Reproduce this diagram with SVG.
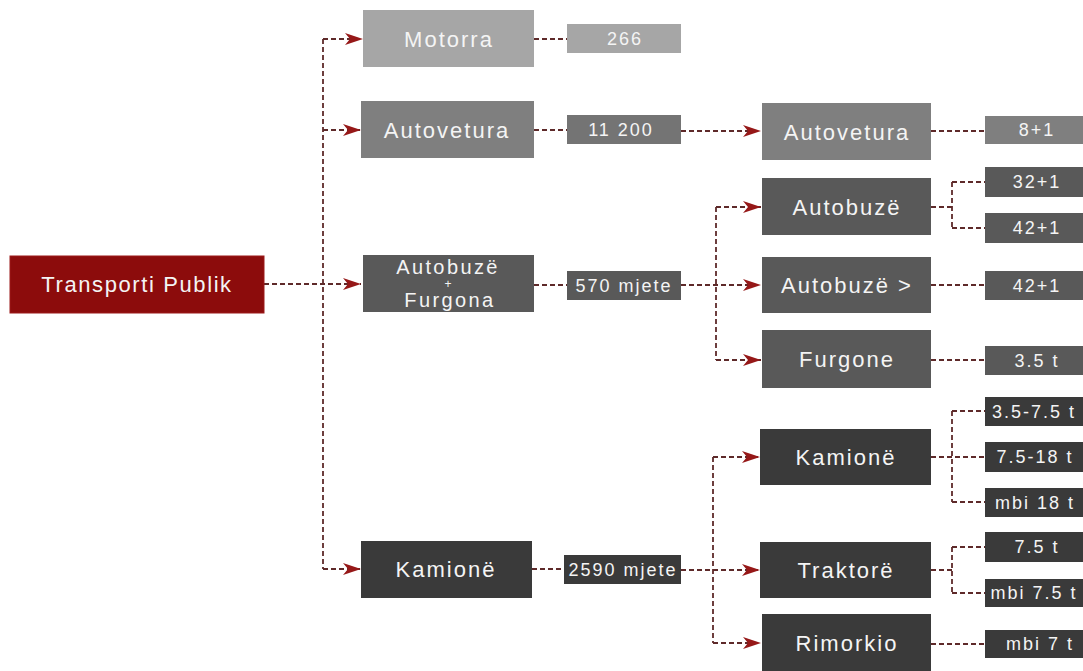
<svg xmlns="http://www.w3.org/2000/svg" width="1083" height="671" viewBox="0 0 1083 671">
<defs>
<style>
.lbl{font-family:"Liberation Sans",Arial,sans-serif;font-size:22px;letter-spacing:2px;fill:#f4f4f4;text-anchor:middle}
.sm{font-family:"Liberation Sans",Arial,sans-serif;font-size:18px;letter-spacing:2px;fill:#f4f4f4;text-anchor:middle}
.c1{fill:#a6a6a6}
.c2{fill:#7f7f7f}
.c3{fill:#595959}
.c4{fill:#3a3a3a}
.red{fill:#8c0c0c;stroke:#9c1a1a;stroke-width:1}
.ln{fill:none;stroke:#5e2a2a;stroke-width:1.8;stroke-dasharray:5 3}
</style>
<marker id="ah" viewBox="0 0 18 14" refX="18" refY="7" markerWidth="18" markerHeight="14" markerUnits="userSpaceOnUse" orient="auto">
<path d="M0,1 L18,7 L0,13 L5,7 z" fill="#961818"/>
</marker>
</defs>
<rect width="1083" height="671" fill="#ffffff"/>

<g id="connectors">
<path class="ln" d="M264,284 H361" marker-end="url(#ah)"/>
<path class="ln" d="M323,39 V569"/>
<path class="ln" d="M323,39 H363" marker-end="url(#ah)"/>
<path class="ln" d="M323,130 H361" marker-end="url(#ah)"/>
<path class="ln" d="M323,569 H361" marker-end="url(#ah)"/>
<path class="ln" d="M534,39 H567"/>
<path class="ln" d="M534,130 H567"/>
<path class="ln" d="M534,285 H567"/>
<path class="ln" d="M532,569 H564"/>
<path class="ln" d="M681,131 H761" marker-end="url(#ah)"/>
<path class="ln" d="M681,285 H761" marker-end="url(#ah)"/>
<path class="ln" d="M716,207 V360"/>
<path class="ln" d="M716,207 H761" marker-end="url(#ah)"/>
<path class="ln" d="M716,360 H761" marker-end="url(#ah)"/>
<path class="ln" d="M681,570 H760" marker-end="url(#ah)"/>
<path class="ln" d="M713,457 V643"/>
<path class="ln" d="M713,457 H760" marker-end="url(#ah)"/>
<path class="ln" d="M713,643 H761" marker-end="url(#ah)"/>
<path class="ln" d="M931,131 H985"/>
<path class="ln" d="M931,207 H952 M952,182 V228 M952,182 H985 M952,228 H985"/>
<path class="ln" d="M931,285 H985"/>
<path class="ln" d="M931,360 H985"/>
<path class="ln" d="M931,457 H985 M952,411 V502 M952,411 H985 M952,502 H985"/>
<path class="ln" d="M931,570 H952 M952,547 V593 M952,547 H985 M952,593 H985"/>
<path class="ln" d="M931,644 H985"/>
</g>

<g id="n-transporti"><rect class="red" x="10" y="256" width="254" height="57"/><text class="lbl" x="137" y="292" style="letter-spacing:1.6px">Transporti Publik</text></g>

<g id="n-motorra"><rect class="c1" x="363" y="10" width="171" height="57"/><text class="lbl" x="449" y="47">Motorra</text></g>
<g id="n-autovetura"><rect class="c2" x="361" y="101" width="173" height="57"/><text class="lbl" x="447" y="138">Autovetura</text></g>
<g id="n-autobuze-furgona"><rect class="c3" x="363" y="255" width="171" height="57"/><text class="lbl" x="448" y="274" style="font-size:20px;letter-spacing:2.4px">Autobuzë</text><text class="lbl" x="448" y="288" style="font-size:12px;letter-spacing:0">+</text><text class="lbl" x="450" y="307" style="font-size:20px;letter-spacing:2.4px">Furgona</text></g>
<g id="n-kamione"><rect class="c4" x="361" y="541" width="171" height="57"/><text class="lbl" x="446" y="577">Kamionë</text></g>

<g id="n-266"><rect class="c1" x="567" y="24" width="114" height="29"/><text class="sm" x="625" y="45">266</text></g>
<g id="n-11200"><rect class="c2" x="567" y="115" width="114" height="29" style="fill:#747474"/><text class="sm" x="621" y="136">11 200</text></g>
<g id="n-570"><rect class="c3" x="567" y="271" width="114" height="29"/><text class="sm" x="624" y="292">570 mjete</text></g>
<g id="n-2590"><rect class="c4" x="564" y="555" width="117" height="29"/><text class="sm" x="623" y="576">2590 mjete</text></g>

<g id="n-autovetura2"><rect class="c2" x="762" y="103" width="169" height="57"/><text class="lbl" x="847" y="140">Autovetura</text></g>
<g id="n-autobuze"><rect class="c3" x="762" y="178" width="169" height="57"/><text class="lbl" x="847" y="215">Autobuzë</text></g>
<g id="n-autobuze-gt"><rect class="c3" x="762" y="257" width="169" height="56"/><text class="lbl" x="847" y="293">Autobuzë &gt;</text></g>
<g id="n-furgone"><rect class="c3" x="762" y="330" width="169" height="58"/><text class="lbl" x="847" y="367">Furgone</text></g>
<g id="n-kamione2"><rect class="c4" x="760" y="429" width="171" height="56"/><text class="lbl" x="846" y="465">Kamionë</text></g>
<g id="n-traktore"><rect class="c4" x="760" y="542" width="171" height="56"/><text class="lbl" x="846" y="578">Traktorë</text></g>
<g id="n-rimorkio"><rect class="c4" x="762" y="614" width="169" height="57"/><text class="lbl" x="847" y="651">Rimorkio</text></g>

<g id="n-8p1"><rect class="c2" x="985" y="116" width="110" height="28"/><text class="sm" x="1037" y="136">8+1</text></g>
<g id="n-32p1"><rect class="c3" x="985" y="167" width="110" height="30"/><text class="sm" x="1037" y="188">32+1</text></g>
<g id="n-42p1a"><rect class="c3" x="985" y="213" width="110" height="30"/><text class="sm" x="1037" y="234">42+1</text></g>
<g id="n-42p1b"><rect class="c3" x="985" y="271" width="110" height="29"/><text class="sm" x="1037" y="292">42+1</text></g>
<g id="n-35t"><rect class="c3" x="985" y="346" width="110" height="29"/><text class="sm" x="1037" y="367">3.5 t</text></g>
<g id="n-35-75t"><rect class="c4" x="985" y="397" width="110" height="29"/><text class="sm" x="1034" y="418">3.5-7.5 t</text></g>
<g id="n-75-18t"><rect class="c4" x="985" y="442" width="110" height="30"/><text class="sm" x="1035" y="463">7.5-18 t</text></g>
<g id="n-mbi18t"><rect class="c4" x="985" y="488" width="110" height="29"/><text class="sm" x="1035" y="509">mbi 18 t</text></g>
<g id="n-75t"><rect class="c4" x="985" y="532" width="110" height="30"/><text class="sm" x="1037" y="553">7.5 t</text></g>
<g id="n-mbi75t"><rect class="c4" x="985" y="579" width="110" height="28"/><text class="sm" x="1034" y="599">mbi 7.5 t</text></g>
<g id="n-mbi7t"><rect class="c4" x="985" y="630" width="110" height="28"/><text class="sm" x="1040" y="650">mbi 7 t</text></g>
</svg>
